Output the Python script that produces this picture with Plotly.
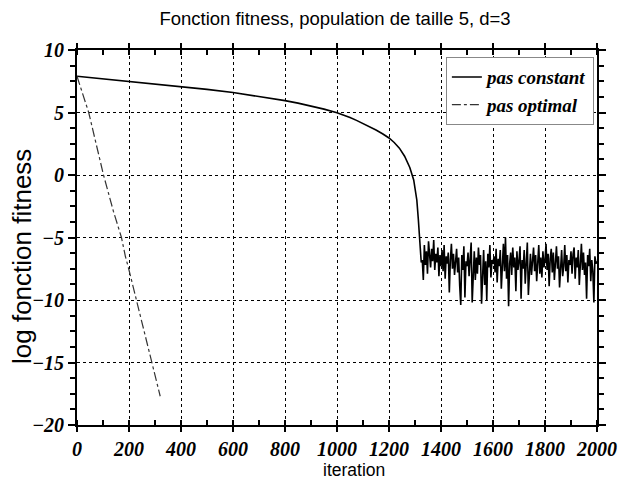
import plotly.graph_objects as go

# --- data ---
constant_x = [0, 100, 200, 300, 400, 500, 600, 700, 750, 800, 850, 900, 950, 1000, 1025, 1050,
              1075, 1100, 1125, 1150, 1175, 1200, 1220, 1240, 1260, 1280, 1295, 1307, 1313, 1320, 1324]
constant_y = [7.9, 7.7, 7.5, 7.3, 7.1, 6.85, 6.6, 6.3, 6.12, 5.95, 5.75, 5.52, 5.27, 4.98, 4.8, 4.6,
              4.37, 4.12, 3.87, 3.6, 3.3, 2.96, 2.6, 2.15, 1.5, 0.6, -0.4, -2.0, -3.6, -5.7, -7.0]

noise_start = 1328
noise_step = 4
noise_y = [
    -6.8, -8.4, -5.6, -7.2, -6.1, -7.9, -5.3, -6.6, -7.4, -5.9, -6.9, -5.2, -7.6, -6.3, -7.0, -5.8, -8.1, -6.4, -7.3,
    -6.0, -7.7, -5.6, -8.3, -6.5, -7.1, -6.2, -9.4, -6.8, -5.5, -7.5, -6.3, -8.0, -7.0, -5.9, -7.8, -6.6, -8.9, -10.4, -6.4, -7.6, -5.7, -9.8, -6.9, -7.3,
    -6.2, -8.1, -6.7, -5.4, -10.2, -7.0, -6.1, -8.4, -6.6, -7.9, -5.8, -7.2, -6.4, -10.3, -7.5, -6.0, -8.8, -6.9, -10.0, -6.3, -7.4, -5.6, -8.2, -6.8, -7.1,
    -6.5, -7.8, -5.9, -8.6, -6.7, -7.3, -6.0, -9.1, -7.0, -5.5, -7.7, -5.0, -8.3, -6.4, -10.5, -7.1, -6.2, -8.0, -5.8, -7.4, -6.6, -9.3, -6.1, -7.6, -6.9,
    -5.7, -9.9, -6.8, -7.5, -6.0, -8.7, -6.5, -5.4, -9.6, -7.2, -6.3, -8.0, -6.9, -5.8, -7.7, -6.4, -8.5, -7.0, -5.6, -7.9, -6.6, -8.2, -6.1, -7.4, -6.8,
    -5.5, -7.6, -6.3, -8.9, -6.7, -5.9, -7.8, -6.2, -8.4, -7.1, -5.7, -7.5, -6.5, -9.0, -6.9, -6.0, -8.1, -7.3, -5.6, -7.7, -6.4, -8.6, -6.8, -7.2, -6.1,
    -7.9, -6.3, -5.8, -8.3, -6.6, -7.4, -6.0, -8.8, -6.7, -5.5, -7.6, -6.2, -8.0, -7.0, -9.9, -6.4, -7.3, -5.9, -8.5, -6.8, -7.7, -10.2, -6.5, -7.1, -6.9,
]

optimal_x = [0, 45, 102, 140, 171, 186, 200, 228, 260, 288, 320]
optimal_y = [7.9, 5.0, 0.0, -2.9, -5.0, -6.5, -7.6, -10.0, -12.6, -15.0, -17.7]

x_ticks = [0, 200, 400, 600, 800, 1000, 1200, 1400, 1600, 1800, 2000]
y_ticks = [10, 5, 0, -5, -10, -15, -20]

noise_x = [noise_start + noise_step * i for i in range(len(noise_y))]
full_x = constant_x + noise_x
full_y = constant_y + noise_y

W, H = 621, 489
L, R, T, B = 77, 24, 50, 64
PW, PH = W - L - R, H - T - B

serif = dict(family="Liberation Serif", size=20, color="black", weight="bold", style="italic")
sans = "Liberation Sans"

fig = go.Figure()
fig.add_trace(go.Scatter(x=full_x, y=full_y, mode="lines", name="pas constant",
                         line=dict(color="black", width=1.6)))
fig.add_trace(go.Scatter(x=optimal_x, y=optimal_y, mode="lines", name="pas optimal",
                         line=dict(color="#333333", width=1.2, dash="dashdot")))

axis_common = dict(
    showline=True, linecolor="black", linewidth=2, mirror="ticks",
    showgrid=True, gridcolor="black", gridwidth=1, griddash="dot",
    zeroline=False, ticks="outside", tickcolor="black", tickwidth=1.5,
    tickfont=serif, automargin=False,
)

fig.update_xaxes(range=[0, 2000], tickvals=x_ticks, ticktext=[str(v) for v in x_ticks],
                 ticklen=5,
                 minor=dict(dtick=100, ticks="inside", ticklen=5, tickcolor="black", showgrid=False),
                 **axis_common)
fig.update_yaxes(range=[-20, 10], tickvals=y_ticks, ticklen=7,
                 minor=dict(dtick=1.25, ticks="outside", ticklen=5, tickcolor="black", showgrid=False),
                 **axis_common)

fig.add_annotation(text="iteration", xref="paper", yref="paper",
                   x=(354 - L) / PW, y=-(470 - (T + PH)) / PH, xanchor="center", yanchor="middle",
                   showarrow=False, font=dict(family=sans, size=17.5, color="black"))
fig.add_annotation(text="log fonction fitness", xref="paper", yref="paper", textangle=-90,
                   x=-(L - 22) / PW, y=1 - (257 - T) / PH, xanchor="center", yanchor="middle",
                   showarrow=False, font=dict(family=sans, size=26, color="black"))

fig.update_layout(
    width=W, height=H,
    margin=dict(l=L, r=R, t=T, b=B),
    paper_bgcolor="white", plot_bgcolor="white",
    title=dict(text="Fonction fitness, population de taille 5, d=3",
               font=dict(family=sans, size=18.5, color="black"),
               x=335 / W, xanchor="center", y=1 - 19 / H, yanchor="middle"),
    legend=dict(x=0.994, y=0.981, xanchor="right", yanchor="top",
                bgcolor="white", bordercolor="#888888", borderwidth=1,
                font=dict(family="Liberation Serif", size=19, color="black", weight="bold", style="italic"),
                itemwidth=30, tracegroupgap=0),
    showlegend=True,
)

fig.write_html(
    "out.html",
    config={"displayModeBar": False},
    post_script="document.body.style.margin='0';document.documentElement.style.overflow='hidden';document.body.style.overflow='hidden';",
)
